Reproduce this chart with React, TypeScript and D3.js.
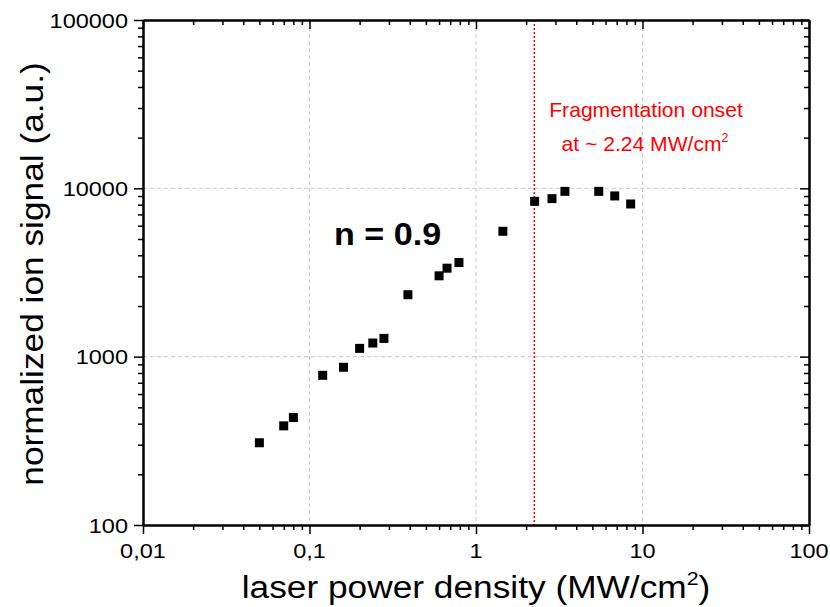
import React, { useEffect, useRef } from 'react';
import * as d3 from 'd3';

const powerDensity = [0.05, 0.07, 0.08, 0.12, 0.16, 0.2, 0.24, 0.28, 0.39, 0.6, 0.67, 0.79, 1.45, 2.25, 2.86, 3.42, 5.46, 6.81, 8.49];
const ionSignal = [308, 388, 435, 775, 865, 1120, 1205, 1284, 2333, 3022, 3354, 3624, 5557, 8369, 8686, 9594, 9594, 9012, 8074];

const xTicks = [0.01, 0.1, 1, 10, 100];
const xTickLabels = ['0,01', '0,1', '1', '10', '100'];
const yTicks = [100, 1000, 10000, 100000];
const yTickLabels = ['100', '1000', '10000', '100000'];
const onset = 2.24;

const minorTicks = (lo: number, hi: number) => {
    const out: number[] = [];
    for (let d = lo; d < hi; d *= 10) {
        for (let k = 2; k <= 9; k++) out.push(d * k);
    }
    return out;
};

const App = () => {
    const ref = useRef<SVGSVGElement>(null);

    useEffect(() => {
        if (!ref.current) return;
        const W = 830, H = 607;
        const margin = { top: 20, right: 21, bottom: 82, left: 143 };
        const width = W - margin.left - margin.right;
        const height = H - margin.top - margin.bottom;
        const font = "'Liberation Sans', Arial, sans-serif";

        const root = d3.select(ref.current);
        root.selectAll('*').remove();
        root.attr('width', W).attr('height', H);

        const svg = root.append('g').attr('transform', `translate(${margin.left},${margin.top})`);

        const x = d3.scaleLog().domain([0.01, 100]).range([0, width]);
        const y = d3.scaleLog().domain([100, 100000]).range([height, 0]);

        // stretched text helper (the original's text is a bit wider than Arial)
        const label = (parent: any, tx: number, ty: number, size: number, anchor: string, rot = 0, k = 1.12) =>
            parent.append('text')
                .attr('transform', `translate(${tx},${ty}) rotate(${rot}) scale(${k},1)`)
                .attr('font-family', font).attr('font-size', size)
                .attr('text-anchor', anchor).attr('fill', '#000');

        // grid
        svg.append('g').selectAll('line')
            .data(xTicks.slice(1, -1))
            .enter().append('line')
            .attr('x1', d => x(d)).attr('x2', d => x(d))
            .attr('y1', 0).attr('y2', height)
            .attr('stroke', '#c8c8c8').attr('stroke-dasharray', '4,3');
        svg.append('g').selectAll('line')
            .data(yTicks.slice(1, -1))
            .enter().append('line')
            .attr('y1', d => y(d)).attr('y2', d => y(d))
            .attr('x1', 0).attr('x2', width)
            .attr('stroke', '#c8c8c8').attr('stroke-dasharray', '4,3');

        // onset line
        svg.append('line')
            .attr('x1', x(onset)).attr('x2', x(onset))
            .attr('y1', 0).attr('y2', height)
            .attr('stroke', 'red').attr('stroke-width', 1.5).attr('stroke-dasharray', '2,2');

        const xMinor = minorTicks(0.01, 100);
        const yMinor = minorTicks(100, 100000);

        const styleAxis = (g: any) => {
            g.select('.domain').attr('stroke', '#000').attr('stroke-width', 2);
            g.selectAll('.tick line').attr('stroke', '#000').attr('stroke-width', 1.5);
            g.selectAll('.tick text').remove();
        };
        const none = () => '';

        svg.append('g').attr('transform', `translate(0,${height})`)
            .call(d3.axisBottom(x).tickValues(xMinor).tickSize(5).tickFormat(none).tickSizeOuter(0)).call(styleAxis);
        svg.append('g').attr('transform', `translate(0,${height})`)
            .call(d3.axisBottom(x).tickValues(xTicks).tickSize(9).tickFormat(none).tickSizeOuter(0)).call(styleAxis);
        svg.append('g')
            .call(d3.axisTop(x).tickValues(xMinor).tickSize(-5).tickFormat(none).tickSizeOuter(0)).call(styleAxis);
        svg.append('g')
            .call(d3.axisTop(x).tickValues(xTicks).tickSize(-9).tickFormat(none).tickSizeOuter(0)).call(styleAxis);
        svg.append('g')
            .call(d3.axisLeft(y).tickValues(yMinor).tickSize(5).tickFormat(none).tickSizeOuter(0)).call(styleAxis);
        svg.append('g')
            .call(d3.axisLeft(y).tickValues(yTicks).tickSize(9).tickFormat(none).tickSizeOuter(0)).call(styleAxis);
        svg.append('g').attr('transform', `translate(${width},0)`)
            .call(d3.axisRight(y).tickValues(yMinor).tickSize(-5).tickFormat(none).tickSizeOuter(0)).call(styleAxis);
        svg.append('g').attr('transform', `translate(${width},0)`)
            .call(d3.axisRight(y).tickValues(yTicks).tickSize(-9).tickFormat(none).tickSizeOuter(0)).call(styleAxis);

        // tick labels
        xTicks.forEach((v, i) => label(svg, x(v), height + 33, 21, 'middle').text(xTickLabels[i]));
        yTicks.forEach((v, i) => label(svg, -15, y(v) + 7.5, 21, 'end').text(yTickLabels[i]));

        // points
        const s = 9;
        svg.append('g').selectAll('rect')
            .data(powerDensity.map((p, i) => [p, ionSignal[i]]))
            .enter().append('rect')
            .attr('x', d => x(d[0]) - s / 2)
            .attr('y', d => y(d[1]) - s / 2)
            .attr('width', s).attr('height', s)
            .attr('fill', '#000');

        // annotations
        label(svg, 334 - margin.left, 245 - margin.top, 30.5, 'start')
            .attr('font-weight', 'bold').text('n = 0.9');

        label(svg, 646 - margin.left, 117 - margin.top, 20.5, 'middle', 0, 1.03).attr('fill', 'red')
            .text('Fragmentation onset');
        const t2 = label(svg, 645 - margin.left, 151 - margin.top, 20.5, 'middle', 0, 1.03).attr('fill', 'red');
        t2.append('tspan').text('at ~ 2.24 MW/cm');
        t2.append('tspan').attr('font-size', 12).attr('dy', -9).text('2');

        // axis titles
        const xt = label(root, margin.left + width / 2, 598, 31.5, 'middle');
        xt.append('tspan').text('laser power density (MW/cm');
        xt.append('tspan').attr('font-size', 19).attr('dy', -13).text('2');
        xt.append('tspan').attr('dy', 13).text(')');

        label(root, 43, 274, 31.5, 'middle', -90).text('normalized ion signal (a.u.)');
    }, []);

    return <svg ref={ref} style={{ display: 'block', position: 'absolute', left: 0, top: 0 }} />;
};

export default App;
